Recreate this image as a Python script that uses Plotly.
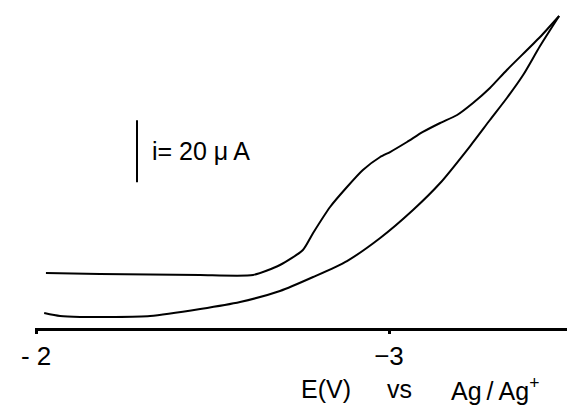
import plotly.graph_objects as go

# Cyclic voltammogram, potential E (V vs Ag/Ag+), current i (µA, relative to baseline)
E_forward = [-2.023, -2.068, -2.125, -2.210, -2.323, -2.465, -2.578, -2.691, -2.785, -2.881,
             -2.975, -3.068, -3.145, -3.230, -3.286, -3.334, -3.380, -3.428, -3.482]
i_forward = [4.84, 3.87, 3.55, 3.55, 3.87, 6.13, 8.39, 11.94, 16.45, 21.61,
             29.03, 38.06, 46.77, 58.71, 67.10, 74.19, 81.61, 90.97, 100.65]

E_return = [-3.482, -3.428, -3.334, -3.286, -3.238, -3.193, -3.145, -3.096, -3.051, -3.003,
            -2.975, -2.926, -2.881, -2.833, -2.785, -2.756, -2.691, -2.615, -2.465, -2.323,
            -2.181, -2.028]
i_return = [100.65, 93.87, 83.23, 77.42, 72.58, 68.71, 66.13, 63.23, 60.00, 56.77,
            55.16, 50.97, 45.48, 39.03, 30.65, 25.16, 20.32, 17.10, 17.10, 17.26,
            17.42, 17.74]

tick_vals = [-2, -3]
tick_text = ["- 2", "\u22123"]
x_range = [-1.997, -3.527]
y_range = [0, 103.23]

scale_E = -2.286
scale_i0 = 47
scale_len = 20
scale_label = "i= 20 \u03bc\u2009A"

font_family = "Liberation Sans, Arial, sans-serif"

fig = go.Figure()
fig.add_trace(go.Scatter(x=E_forward, y=i_forward, mode="lines",
                         line=dict(color="black", width=2, shape="spline", smoothing=0.7),
                         hoverinfo="skip", showlegend=False))
fig.add_trace(go.Scatter(x=E_return, y=i_return, mode="lines",
                         line=dict(color="black", width=2, shape="spline", smoothing=0.6),
                         hoverinfo="skip", showlegend=False))

# scale bar
fig.add_shape(type="line", xref="x", yref="y",
              x0=scale_E, x1=scale_E, y0=scale_i0, y1=scale_i0 + scale_len,
              line=dict(color="black", width=2))
fig.add_annotation(x=scale_E, y=scale_i0 + scale_len / 2, xref="x", yref="y",
                   text=scale_label, showarrow=False, xanchor="left", yanchor="middle",
                   xshift=13, font=dict(size=25, color="black", family=font_family))

# axis caption
cap_font = dict(size=25, color="black", family=font_family)
cap_y = -0.19
fig.add_annotation(x=0.489, y=cap_y, xref="paper", yref="paper", text="E(V)",
                   showarrow=False, xanchor="left", yanchor="middle", font=cap_font)
fig.add_annotation(x=0.648, y=cap_y, xref="paper", yref="paper", text="vs",
                   showarrow=False, xanchor="left", yanchor="middle", font=cap_font)
fig.add_annotation(x=0.766, y=cap_y, xref="paper", yref="paper",
                   text="Ag\u2009/\u2009Ag<sup>+</sup>",
                   showarrow=False, xanchor="left", yanchor="middle", font=cap_font)

fig.update_xaxes(range=x_range, showline=True, linecolor="black", linewidth=2.5,
                 showgrid=False, zeroline=False, tickmode="array",
                 tickvals=tick_vals, ticktext=tick_text, ticks="outside",
                 ticklen=3, tickwidth=3, tickcolor="black",
                 tickfont=dict(size=26, color="black", family=font_family))
fig.update_yaxes(range=y_range, visible=False, showgrid=False, zeroline=False)

# page body has an 8px default margin: figure sized to fit the 575x413 window
fig.update_layout(width=567, height=397, margin=dict(l=27, r=0, t=0, b=77),
                  plot_bgcolor="white", paper_bgcolor="white", showlegend=False)

fig.write_html("out.html")
